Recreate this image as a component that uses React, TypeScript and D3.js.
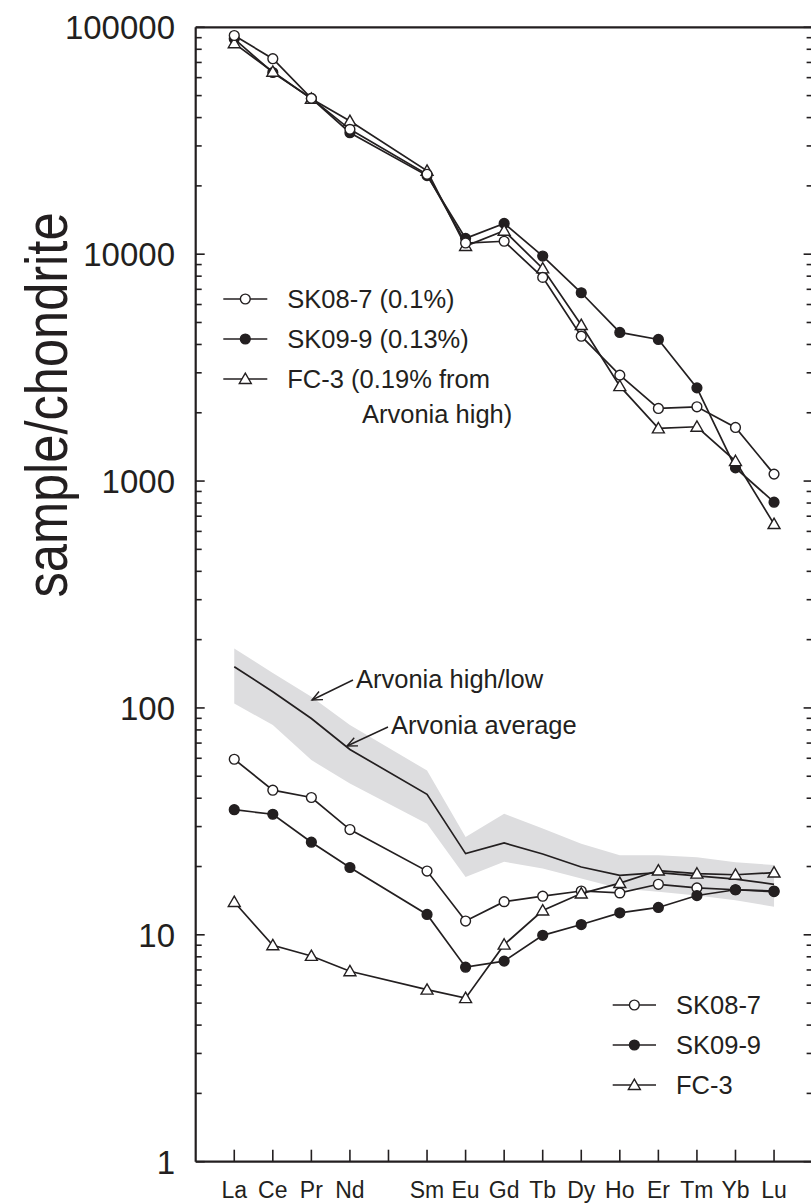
import React from 'react';
import * as d3 from 'd3';

// Rare-earth elements along the x axis (Pm has a slot but no data/label)
const elements = ['La', 'Ce', 'Pr', 'Nd', 'Pm', 'Sm', 'Eu', 'Gd', 'Tb', 'Dy', 'Ho', 'Er', 'Tm', 'Yb', 'Lu'];
const labelledElements = ['La', 'Ce', 'Pr', 'Nd', 'Sm', 'Eu', 'Gd', 'Tb', 'Dy', 'Ho', 'Er', 'Tm', 'Yb', 'Lu'];
const yTickValues = [1, 10, 100, 1000, 10000, 100000];

// Concentrated REE fractions (upper group)
const sk087Rich = [92000, 72700, 48600, 35500, null, 22500, 11200, 11400, 7900, 4350, 2930, 2090, 2125, 1723, 1073];
const sk099Rich = [89000, 63200, 48600, 34300, null, 22200, 11740, 13670, 9810, 6760, 4520, 4210, 2575, 1143, 807];
const fc3Rich = [85000, 63700, 48400, 38600, null, 23300, 10860, 12680, 8650, 4870, 2620, 1706, 1735, 1224, 646];

// Whole-rock samples (lower group)
const sk087Rock = [59.4, 43.4, 40.3, 29.1, null, 19.1, 11.5, 14.0, 14.8, 15.6, 15.3, 16.7, 16.1, 15.8, 15.5];
const sk099Rock = [35.6, 34.0, 25.6, 19.8, null, 12.3, 7.2, 7.66, 9.95, 11.1, 12.5, 13.2, 14.9, 15.8, 15.6];
const fc3Rock = [13.95, 8.99, 8.07, 6.91, null, 5.73, 5.26, 9.05, 12.8, 15.2, 16.9, 19.2, 18.6, 18.4, 18.8];

// Arvonia envelope and average
const arvoniaHigh = [183, 142.6, 112, 84, null, 53, 27, 34.2, 29.4, 25.2, 22.4, 22.4, 22.0, 20.9, 20.3];
const arvoniaLow = [104.5, 84, 58.9, 46.4, null, 30.9, 18, 21, 19.6, 17.7, 16, 15.5, 14.9, 14.2, 13.3];
const arvoniaAvg = [152, 117.8, 89.8, 65.6, null, 41.6, 22.8, 25.4, 22.7, 19.9, 18.3, 18.8, 18.2, 17.6, 16.7];

const topLegend = ['SK08-7 (0.1%)', 'SK09-9 (0.13%)', 'FC-3 (0.19% from'];
const topLegendExtra = 'Arvonia high)';
const bottomLegend = ['SK08-7', 'SK09-9', 'FC-3'];

const W = 811;
const H = 1204;
const INK = '#231f20';
const FONT = '"Liberation Sans", Arial, Helvetica, sans-serif';

const left = 195.7;
const right = 812.6;
const top = 27.3;
const bottom = 1161.7;

const x = d3.scaleLinear().domain([-1, 15]).range([left, right]);
const y = d3.scaleLog().domain([1, 100000]).range([bottom, top]);

type Pt = { i: number; v: number };
const pts = (arr: (number | null)[]): Pt[] =>
  arr.map((v, i) => ({ i, v: v as number })).filter((p) => p.v != null);

const line = d3
  .line<Pt>()
  .x((d) => x(d.i))
  .y((d) => y(d.v));

const band = (() => {
  const rows = arvoniaHigh
    .map((h, i) => ({ i, h, l: arvoniaLow[i] }))
    .filter((r) => r.h != null && r.l != null) as { i: number; h: number; l: number }[];
  return d3
    .area<{ i: number; h: number; l: number }>()
    .x((d) => x(d.i))
    .y0((d) => y(d.l))
    .y1((d) => y(d.h))(rows);
})();

const triPath = d3.symbol().type(d3.symbolTriangle).size(62)() as string;

type Kind = 'open' | 'filled' | 'tri';

function Marker({ cx, cy, kind }: { cx: number; cy: number; kind: Kind }) {
  if (kind === 'tri') {
    return (
      <path
        d={triPath}
        transform={`translate(${cx},${cy + 1})`}
        fill="#fff"
        stroke={INK}
        strokeWidth={1.4}
      />
    );
  }
  return (
    <circle
      cx={cx}
      cy={cy}
      r={4.9}
      fill={kind === 'filled' ? INK : '#fff'}
      stroke={INK}
      strokeWidth={1.4}
    />
  );
}

function Series({ data, kind }: { data: (number | null)[]; kind: Kind }) {
  const p = pts(data);
  return (
    <g>
      <path d={line(p) as string} fill="none" stroke={INK} strokeWidth={1.7} />
      {p.map((d) => (
        <Marker key={d.i} cx={x(d.i)} cy={y(d.v)} kind={kind} />
      ))}
    </g>
  );
}

function Arrow({ x1, y1, x2, y2 }: { x1: number; y1: number; x2: number; y2: number }) {
  const ang = Math.atan2(y2 - y1, x2 - x1);
  const len = 11;
  const spread = 0.42;
  const a1 = ang + Math.PI - spread;
  const a2 = ang + Math.PI + spread;
  return (
    <g stroke={INK} strokeWidth={1.4} fill="none">
      <line x1={x1} y1={y1} x2={x2} y2={y2} />
      <path
        d={`M${x2 + len * Math.cos(a1)},${y2 + len * Math.sin(a1)}L${x2},${y2}L${x2 + len * Math.cos(a2)},${y2 + len * Math.sin(a2)}`}
      />
    </g>
  );
}

function LegendRow({ lx, cy, kind, label, width }: { lx: number; cy: number; kind: Kind; label: string; width: number }) {
  return (
    <g>
      <line x1={lx} y1={cy} x2={lx + width} y2={cy} stroke={INK} strokeWidth={1.7} />
      <Marker cx={lx + width / 2} cy={cy} kind={kind} />
      <text x={lx + width + 20} y={cy + 9} fontSize={25.5} fill={INK}>
        {label}
      </text>
    </g>
  );
}

export default function App() {
  const minorTicks: number[] = [];
  for (let e = 0; e < 5; e++) {
    for (let k = 2; k <= 9; k++) minorTicks.push(k * Math.pow(10, e));
  }
  const kinds: Kind[] = ['open', 'filled', 'tri'];

  return (
    <svg
      width={W}
      height={H}
      style={{ position: 'absolute', left: 0, top: 0, background: '#fff' }}
      fontFamily={FONT}
    >
      <rect x={0} y={0} width={W} height={H} fill="#fff" />

      {/* Arvonia envelope and average */}
      <path d={band as string} fill="#dddddf" stroke="none" />
      <path d={line(pts(arvoniaAvg)) as string} fill="none" stroke={INK} strokeWidth={1.7} />

      {/* Lower group */}
      <Series data={sk087Rock} kind="open" />
      <Series data={fc3Rock} kind="tri" />
      <Series data={sk099Rock} kind="filled" />

      {/* Upper group */}
      <Series data={sk099Rich} kind="filled" />
      <Series data={fc3Rich} kind="tri" />
      <Series data={sk087Rich} kind="open" />

      {/* Frame */}
      <g stroke={INK} strokeWidth={2.2} fill="none">
        <line x1={left} y1={top} x2={right} y2={top} />
        <line x1={left} y1={bottom} x2={right} y2={bottom} />
        <line x1={left} y1={top} x2={left} y2={bottom} />
        <line x1={right} y1={top} x2={right} y2={bottom} />
      </g>

      {/* Y ticks, both sides, pointing inward */}
      <g stroke={INK} strokeWidth={1.6}>
        {yTickValues.map((v) => (
          <g key={`M${v}`}>
            <line x1={left} x2={left + 9} y1={y(v)} y2={y(v)} />
            <line x1={right} x2={right - 9} y1={y(v)} y2={y(v)} />
          </g>
        ))}
        {minorTicks.map((v) => (
          <g key={`m${v}`}>
            <line x1={left} x2={left + 6} y1={y(v)} y2={y(v)} />
            <line x1={right} x2={right - 6} y1={y(v)} y2={y(v)} />
          </g>
        ))}
      </g>
      {yTickValues.map((v) => (
        <text key={`t${v}`} x={175} y={y(v) + 11.8} fontSize={33} textAnchor="end" fill={INK}>
          {String(v)}
        </text>
      ))}

      {/* X ticks and element labels */}
      <g stroke={INK} strokeWidth={1.6}>
        {elements.map((el, i) => (
          <line key={el} x1={x(i)} x2={x(i)} y1={bottom} y2={bottom - 12} />
        ))}
      </g>
      {labelledElements.map((el) => (
        <text
          key={`l${el}`}
          x={x(elements.indexOf(el))}
          y={1198}
          fontSize={23}
          textAnchor="middle"
          fill={INK}
        >
          {el}
        </text>
      ))}

      {/* Axis title */}
      <text
        transform={`translate(67,405) rotate(-90)`}
        fontSize={60}
        textAnchor="middle"
        textLength={385}
        lengthAdjust="spacingAndGlyphs"
        fill={INK}
      >
        sample/chondrite
      </text>

      {/* Legends */}
      {topLegend.map((t, k) => (
        <LegendRow key={t} lx={223.3} cy={299 + 40 * k} kind={kinds[k]} label={t} width={44} />
      ))}
      <text x={362} y={414 + 9} fontSize={25.5} fill={INK}>
        {topLegendExtra}
      </text>
      {bottomLegend.map((t, k) => (
        <LegendRow key={`b${t}`} lx={612.7} cy={1005 + 40 * k} kind={kinds[k]} label={t} width={43.3} />
      ))}

      {/* Annotations */}
      <Arrow x1={353} y1={680} x2={312} y2={700} />
      <text x={356} y={688} fontSize={25.5} fill={INK}>
        Arvonia high/low
      </text>
      <Arrow x1={388} y1={727} x2={347} y2={746} />
      <text x={391} y={734} fontSize={25.5} fill={INK}>
        Arvonia average
      </text>
    </svg>
  );
}
